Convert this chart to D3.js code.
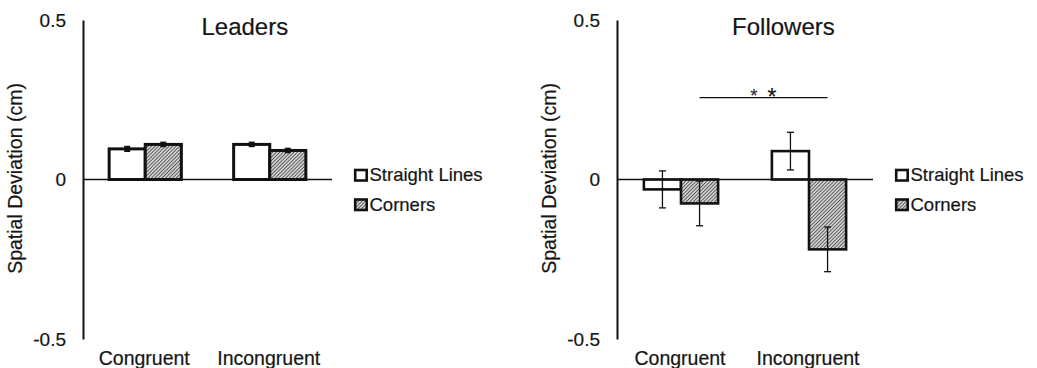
<!DOCTYPE html>
<html>
<head>
<meta charset="utf-8">
<script src="https://cdn.jsdelivr.net/npm/d3@7"></script>
<style>
  body { margin: 0; background: #fff; }
  text { font-family: "Liberation Sans", Arial, sans-serif; fill: #151515; stroke: #151515; stroke-width: 0.2px; }
</style>
</head>
<body>
<div id="chart"></div>
<script>
// Data
const conditions = ["Congruent", "Incongruent"];
const seriesNames = ["Straight Lines", "Corners"];
const yTicks = [-0.5, 0, 0.5];
const yTickLabels = ["-0.5", "0", "0.5"];

const leadersStraight = [0.096, 0.110];
const leadersCorners = [0.110, 0.091];
const leadersStraightErr = [0.006, 0.005];
const leadersCornersErr = [0.005, 0.005];

const followersStraight = [-0.031, 0.089];
const followersCorners = [-0.075, -0.219];
const followersStraightErr = [0.058, 0.059];
const followersCornersErr = [0.070, 0.070];

const sigMarks = ["*", "*"];

function e1() {
    const overall_width = 1037
    const overall_height = 368

    let svg = d3.select("#chart")
        .append("svg")
        .attr("width", overall_width)
        .attr("height", overall_height);

    svg.append("rect")
        .attr("width", "100%")
        .attr("height", "100%")
        .attr("fill", "#fff");

    //hatch pattern for the Corners bars
    const hs = 2.5;
    let defs = svg.append("defs");
    let pat = defs.append("pattern")
        .attr("id", "hatch")
        .attr("patternUnits", "userSpaceOnUse")
        .attr("width", hs)
        .attr("height", hs)
        .attr("patternTransform", "rotate(45)");
    pat.append("rect").attr("width", hs).attr("height", hs).attr("fill", "#d0d0d0");
    pat.append("line")
        .attr("x1", 0).attr("y1", 0).attr("x2", 0).attr("y2", hs)
        .attr("stroke", "#2e2e2e")
        .attr("stroke-width", 1.3);

    function panel(cfg) {
        let g = svg.append("g");

        let scaleY = d3.scaleLinear().domain([-0.5, 0.5]).range([339, 20]);
        let scaleX = d3.scaleBand()
            .domain(conditions)
            .range([cfg.x0, cfg.x1])
            .paddingInner(0.42)
            .paddingOuter(0.21);
        let scaleS = d3.scaleBand().domain(seriesNames).range([0, scaleX.bandwidth()]);

        //y axis
        let axisY = d3.axisLeft(scaleY)
            .tickValues(yTicks)
            .tickFormat(function(d, i) { return yTickLabels[i]; })
            .tickSize(0)
            .tickSizeOuter(0)
            .tickPadding(17);
        let ay = g.append("g")
            .attr("transform", `translate(${cfg.x0},0)`)
            .call(axisY);
        ay.select(".domain").attr("stroke", "#111").attr("stroke-width", 2);
        ay.selectAll("text")
            .attr("font-size", 19)
            .attr("fill", "#151515");

        //y label
        g.append("text")
            .attr("transform", `translate(${cfg.x0 - 61},${scaleY(0) - 1}) rotate(-90)`)
            .attr("text-anchor", "middle")
            .attr("font-size", 19.5)
            .text("Spatial Deviation (cm)");

        //title
        g.append("text")
            .attr("x", cfg.x0 + (cfg.x1 - cfg.x0) * 0.65)
            .attr("y", 35)
            .attr("text-anchor", "middle")
            .attr("font-size", 24)
            .text(cfg.title);

        //bars
        let rows = [];
        conditions.forEach(function(c, i) {
            rows.push({cond: c, s: seriesNames[0], v: cfg.straight[i], e: cfg.straightErr[i]});
            rows.push({cond: c, s: seriesNames[1], v: cfg.corners[i], e: cfg.cornersErr[i]});
        });

        g.selectAll("rect.bar")
            .data(rows)
            .enter()
            .append("rect")
            .attr("class", "bar")
            .attr("x", function(d) { return scaleX(d.cond) + scaleS(d.s); })
            .attr("y", function(d) { return scaleY(Math.max(0, d.v)); })
            .attr("width", scaleS.bandwidth())
            .attr("height", function(d) { return Math.abs(scaleY(d.v) - scaleY(0)); })
            .attr("fill", function(d) { return d.s === seriesNames[1] ? "url(#hatch)" : "#fff"; })
            .attr("stroke", "#111")
            .attr("stroke-width", cfg.barStroke);

        //zero line
        g.append("line")
            .attr("x1", cfg.x0).attr("x2", cfg.x1)
            .attr("y1", scaleY(0)).attr("y2", scaleY(0))
            .attr("stroke", "#111")
            .attr("stroke-width", 1.5);

        //error bars
        let eb = g.selectAll("g.err")
            .data(rows)
            .enter()
            .append("g")
            .attr("class", "err")
            .attr("stroke", "#111")
            .attr("stroke-width", cfg.errStroke);
        let cx = function(d) { return scaleX(d.cond) + scaleS(d.s) + scaleS.bandwidth() / 2; };
        eb.append("line")
            .attr("x1", cx).attr("x2", cx)
            .attr("y1", function(d) { return scaleY(d.v + d.e); })
            .attr("y2", function(d) { return scaleY(d.v - d.e); });
        [1, -1].forEach(function(sign) {
            eb.append("line")
                .attr("x1", function(d) { return cx(d) - cfg.cap; })
                .attr("x2", function(d) { return cx(d) + cfg.cap; })
                .attr("y1", function(d) { return scaleY(d.v + sign * d.e); })
                .attr("y2", function(d) { return scaleY(d.v + sign * d.e); });
        });

        //category labels
        g.selectAll("text.cat")
            .data(conditions)
            .enter()
            .append("text")
            .attr("class", "cat")
            .attr("x", function(d) { return scaleX(d) + scaleX.bandwidth() / 2 - 1; })
            .attr("y", 365)
            .attr("text-anchor", "middle")
            .attr("font-size", 19.5)
            .text(function(d) { return d; });

        //legend
        let lg = g.append("g")
            .attr("transform", `translate(${cfg.x1 + 22}, 0)`);
        seriesNames.forEach(function(s, i) {
            let yy = 181 + i * 29.5;
            lg.append("rect")
                .attr("x", 1.2).attr("y", yy - 11)
                .attr("width", 11.5).attr("height", 10.5)
                .attr("fill", i === 1 ? "url(#hatch)" : "#fff")
                .attr("stroke", "#111")
                .attr("stroke-width", 2.6);
            lg.append("text")
                .attr("x", 15.5)
                .attr("y", yy)
                .attr("font-size", 18.5)
                .text(s);
        });

        return {scaleX: scaleX, scaleS: scaleS, scaleY: scaleY, g: g};
    }

    panel({
        x0: 83, x1: 332, title: "Leaders",
        straight: leadersStraight, corners: leadersCorners,
        straightErr: leadersStraightErr, cornersErr: leadersCornersErr,
        barStroke: 3, errStroke: 2.4, cap: 3
    });

    let p2 = panel({
        x0: 617, x1: 873, title: "Followers",
        straight: followersStraight, corners: followersCorners,
        straightErr: followersStraightErr, cornersErr: followersCornersErr,
        barStroke: 2.6, errStroke: 1.3, cap: 3.5
    });

    //significance bracket between the two Corners bars
    let sx = function(c) { return p2.scaleX(c) + p2.scaleS(seriesNames[1]) + p2.scaleS.bandwidth() / 2; };
    let midX = (sx(conditions[0]) + sx(conditions[1])) / 2;
    p2.g.append("line")
        .attr("x1", sx(conditions[0])).attr("x2", sx(conditions[1]))
        .attr("y1", 97.7).attr("y2", 97.7)
        .attr("stroke", "#111")
        .attr("stroke-width", 1.3);
    p2.g.selectAll("text.sig")
        .data(sigMarks)
        .enter()
        .append("text")
        .attr("class", "sig")
        .attr("x", function(d, i) { return midX - 9.5 + i * 18; })
        .attr("y", function(d, i) { return i === 0 ? 102 : 104.5; })
        .attr("text-anchor", "middle")
        .attr("font-size", function(d, i) { return i === 0 ? 19 : 23; })
        .attr("fill", function(d, i) { return i === 0 ? "#777" : "#111"; })
        .style("stroke", function(d, i) { return i === 0 ? "#777" : "#111"; })
        .text(function(d) { return d; });
}

e1();
</script>
</body>
</html>
